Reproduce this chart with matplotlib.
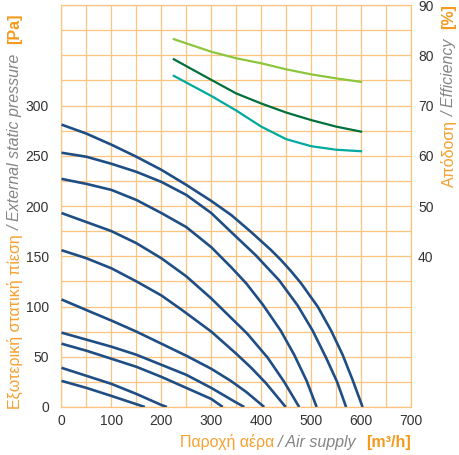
import matplotlib
matplotlib.use("Agg")
import matplotlib.pyplot as plt
import numpy as np

plt.rcParams['font.family'] = ['Liberation Sans', 'DejaVu Sans']

# fan curves: air supply [m3/h] vs external static pressure [Pa]
fan_x = [
    [0, 50, 100, 150, 200, 250, 300, 340, 380, 400, 420, 440, 460, 480, 500, 513, 540, 563, 583, 603],
    [0, 50, 100, 150, 200, 250, 300, 340, 389, 436, 473, 503, 529, 552, 570],
    [0, 50, 100, 150, 200, 250, 300, 340, 370, 403, 439, 466, 491, 511],
    [0, 50, 100, 150, 200, 250, 300, 339, 372, 413, 446, 476],
    [0, 50, 100, 150, 200, 240, 300, 350, 380, 409, 449],
    [0, 52, 100, 150, 200, 250, 300, 339, 370, 406],
    [0, 50, 100, 150, 200, 250, 300, 348, 366],
    [0, 50, 100, 150, 200, 250, 300, 323],
    [0, 50, 100, 150, 200, 211],
    [0, 50, 100, 167],
]
fan_p = [
    [281, 272, 261, 249, 236, 221, 205, 191, 174, 165, 156, 146, 135, 123, 109, 100, 76, 52, 27, 0],
    [253, 249, 242, 234, 224, 211, 193, 174, 151, 126, 101, 76, 50, 25, 0],
    [227, 222, 216, 206, 193, 179, 159, 139, 123, 102, 76, 52, 26, 0],
    [193, 184, 175, 163, 148, 130, 108, 89, 73, 49, 25, 0],
    [156, 148, 138, 125, 111, 97, 75, 53, 39, 24, 0],
    [107, 96, 86, 75, 63, 51, 38, 26, 15, 0],
    [74, 67, 60, 52, 42, 32, 19, 5, 0],
    [63, 56, 48, 40, 30, 19, 8, 0],
    [39, 31, 23, 13, 2, 0],
    [26, 19, 11, 0],
]

# efficiency curves [%]
eff_x = [225, 300, 350, 400, 450, 500, 550, 600]
eff_light = [83.2, 80.7, 79.4, 78.4, 77.2, 76.2, 75.4, 74.7]
eff_dark = [79.2, 75.1, 72.4, 70.4, 68.6, 67.1, 65.8, 64.8]
eff_teal = [75.9, 71.9, 69.0, 65.8, 63.3, 61.9, 61.2, 60.9]

x_ticks = np.arange(0, 701, 100)
p_ticks = np.arange(0, 301, 50)
eff_ticks = np.arange(40, 91, 10)

orange = '#f7a030'
orange_b = '#f49a1e'
gray = '#858585'
grid_c = '#fcc47f'
blue = '#1f4e85'
txt = '#333333'

fig = plt.figure(figsize=(4.6, 4.55), dpi=100)
ax = fig.add_axes([61.5 / 460, 48 / 455, 349.5 / 460, 402 / 455])

for xs, ps in zip(fan_x, fan_p):
    ax.plot(xs, ps, color=blue, lw=1.9, solid_capstyle='butt', solid_joinstyle='round', zorder=3)

ax.set_xlim(0, 700)
ax.set_ylim(0, 400)
ax.set_xticks(np.arange(0, 701, 50))
ax.set_xticklabels([str(v) if v in x_ticks else '' for v in np.arange(0, 701, 50)])
ax.set_yticks(np.arange(0, 401, 25))
ax.set_yticklabels([str(v) if v in p_ticks else '' for v in np.arange(0, 401, 25)])
ax.grid(True, color=grid_c, lw=0.9)
ax.set_axisbelow(True)
ax.tick_params(length=0, labelsize=10, labelcolor=txt)
ax.tick_params(axis='y', pad=9)
ax.tick_params(axis='x', pad=5)
for s in ax.spines.values():
    s.set_color(grid_c)
    s.set_linewidth(0.9)

ax2 = ax.twinx()
ax2.plot(eff_x, eff_light, color='#8cc63e', lw=1.6)
ax2.plot(eff_x, eff_dark, color='#00703c', lw=1.6)
ax2.plot(eff_x, eff_teal, color='#00a99d', lw=1.6)
ax2.set_ylim(10, 90)
ax2.set_yticks(eff_ticks)
ax2.tick_params(length=0, labelsize=10, labelcolor=txt, pad=5)
for s in ax2.spines.values():
    s.set_visible(False)

fs = 11.5


def chain(first, pieces, rot):
    # pieces: (text, color, style, weight, gap in points)
    prev = first
    for text, color, style, weight, gap in pieces:
        if rot:
            prev = fig.add_artist(matplotlib.text.Annotation(
                text, xy=(0.5, 0), xycoords=prev, xytext=(0, -gap), textcoords='offset points',
                ha='center', va='top', rotation=90, color=color, style=style,
                weight=weight, fontsize=fs))
        else:
            prev = fig.add_artist(matplotlib.text.Annotation(
                text, xy=(0, 0), xycoords=prev, xytext=(-gap, 0), textcoords='offset points',
                ha='right', va='bottom', color=color, style=style,
                weight=weight, fontsize=fs))


# x label
t = fig.text(411 / 460, 1 - 447 / 455, '[m³/h]', ha='right', va='baseline',
             color=orange_b, weight='bold', fontsize=fs)
chain(t, [('/ Air supply', gray, 'italic', 'normal', 7),
          ('Παροχή αέρα', orange, 'normal', 'normal', 3)], False)

# left y label
t = fig.text(15 / 460, 1 - 14 / 455, '[Pa]', ha='center', va='top', rotation=90,
             color=orange_b, weight='bold', fontsize=fs)
chain(t, [('/ External static pressure', gray, 'italic', 'normal', 7),
          ('Εξωτερική στατική πίεση', orange, 'normal', 'normal', 3)], True)

# right y label
t = fig.text(449 / 460, 1 - 4 / 455, '[%]', ha='center', va='top', rotation=90,
             color=orange_b, weight='bold', fontsize=fs)
chain(t, [('/ Efficiency', gray, 'italic', 'normal', 7),
          ('Απόδοση', orange, 'normal', 'normal', 3)], True)

fig.savefig('out.png', dpi=100)
